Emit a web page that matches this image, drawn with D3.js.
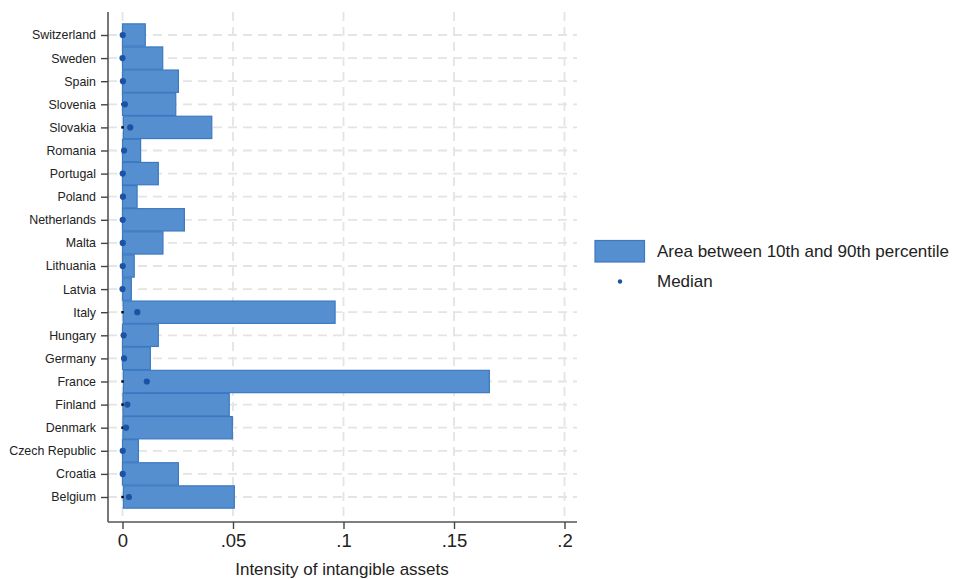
<!DOCTYPE html>
<html>
<head>
<meta charset="utf-8">
<script src="https://cdn.jsdelivr.net/npm/d3@7"></script>
<style>
  body { margin: 0; background: #fff; }
  text { font-family: "Liberation Sans", Arial, Helvetica, sans-serif; fill: #222; }
</style>
</head>
<body>
<svg id="chart" width="953" height="579"></svg>
<script>
// Countries, listed bottom to top
const countries = ["Belgium", "Croatia", "Czech Republic", "Denmark", "Finland", "France",
  "Germany", "Hungary", "Italy", "Latvia", "Lithuania", "Malta", "Netherlands", "Poland",
  "Portugal", "Romania", "Slovakia", "Slovenia", "Spain", "Sweden", "Switzerland"];

// 10th percentile of intangible asset intensity
const p10 = [0.0004, 0, 0, 0.0002, 0.0002, 0.0004, 0, 0, 0.0003, 0, 0, 0, 0, 0,
  0, 0, 0.0004, 0, 0, 0, 0];

// 90th percentile
const p90 = [0.0506, 0.0253, 0.0072, 0.0497, 0.0483, 0.166, 0.0126, 0.0162, 0.0962, 0.004,
  0.0053, 0.0183, 0.028, 0.0066, 0.0162, 0.0082, 0.0404, 0.0241, 0.0253, 0.0182, 0.0103];

// Median
const median = [0.0029, 0.0001, 0.0001, 0.0016, 0.0022, 0.011, 0.0007, 0.0005, 0.0067, 0,
  0.0001, 0.0001, 0.0001, 0.0002, 0.0001, 0.0007, 0.0035, 0.0011, 0.0002, 0, 0.0001];

// Lowest observed value (shown where the distribution's floor sits below the band)
const lowest = [0, null, null, 0, 0, 0, null, null, 0, null, null, null, null, null,
  null, null, 0, 0, null, null, null];

const xTicks = [0, 0.05, 0.1, 0.15, 0.2];
const xTickLabels = ["0", ".05", ".1", ".15", ".2"];
const legendLabels = ["Area between 10th and 90th percentile", "Median"];
const xTitle = "Intensity of intangible assets";

const svg = d3.select("#chart");
const plot = { left: 108, right: 577, top: 12, bottom: 522 };

const x = d3.scaleLinear().domain([0, 0.2]).range([122.5, 564.5]);
const y = d3.scaleLinear().domain([0, countries.length - 1]).range([497, 35]);
const step = Math.abs(y(1) - y(0));
const barH = step - 0.8;

const data = countries.map((c, i) => ({ c, i, lo: p10[i], hi: p90[i], med: median[i], low: lowest[i] }));

// Grid lines
const grid = svg.append("g").attr("stroke", "#e4e4e4").attr("stroke-width", 1.8)
  .attr("stroke-dasharray", "9,6");
grid.selectAll("line.h").data(data).join("line")
  .attr("x1", plot.left).attr("x2", plot.right)
  .attr("y1", d => y(d.i)).attr("y2", d => y(d.i));
grid.selectAll("line.v").data(xTicks).join("line")
  .attr("x1", d => x(d)).attr("x2", d => x(d))
  .attr("y1", plot.top).attr("y2", plot.bottom);

// Percentile bands
svg.append("g").selectAll("rect").data(data).join("rect")
  .attr("x", d => x(d.lo))
  .attr("width", d => x(d.hi) - x(d.lo))
  .attr("y", d => y(d.i) - barH / 2)
  .attr("height", barH)
  .attr("fill", "#558fcf")
  .attr("stroke", "#3b79c0")
  .attr("stroke-width", 1.2);

// Lowest value marks
svg.append("g").selectAll("rect").data(data.filter(d => d.low !== null)).join("rect")
  .attr("x", d => x(d.low) - 1.2).attr("y", d => y(d.i) - 1.2)
  .attr("width", 2.4).attr("height", 2.4).attr("fill", "#000");

// Medians
svg.append("g").selectAll("circle").data(data).join("circle")
  .attr("cx", d => x(d.med)).attr("cy", d => y(d.i)).attr("r", 3.1)
  .attr("fill", "#1c52a3");

// Y axis
const yAxis = d3.axisLeft(y).tickValues(d3.range(countries.length))
  .tickFormat(i => countries[i]).tickSize(7).tickPadding(5);
const gy = svg.append("g").attr("transform", `translate(${plot.left},0)`).call(yAxis);
gy.select(".domain").attr("d", `M0,${plot.top}V${plot.bottom}`).attr("stroke", "#555").attr("stroke-width", 1.6);
gy.selectAll(".tick line").attr("stroke", "#444").attr("stroke-width", 1.4);
gy.selectAll(".tick text").attr("font-size", 12.4).attr("fill", "#222")
  .style("font-family", "'Liberation Sans', Arial, sans-serif");

// X axis
const xAxis = d3.axisBottom(x).tickValues(xTicks).tickFormat((d, i) => xTickLabels[i])
  .tickSize(7).tickPadding(5);
const gx = svg.append("g").attr("transform", `translate(0,${plot.bottom})`).call(xAxis);
gx.select(".domain").attr("d", `M${plot.left},0H${plot.right}`).attr("stroke", "#555").attr("stroke-width", 1.6);
gx.selectAll(".tick line").attr("stroke", "#444").attr("stroke-width", 1.4);
gx.selectAll(".tick text").attr("font-size", 18.5).attr("fill", "#222")
  .style("font-family", "'Liberation Sans', Arial, sans-serif");

svg.append("text").attr("x", (plot.left + plot.right) / 2 - 0.5).attr("y", 574.5)
  .attr("text-anchor", "middle").attr("font-size", 17).text(xTitle);

// Legend
const lg = svg.append("g");
lg.append("rect").attr("x", 595).attr("y", 240.5).attr("width", 49.5).attr("height", 21.5)
  .attr("fill", "#558fcf").attr("stroke", "#3b79c0").attr("stroke-width", 1.2);
lg.append("circle").attr("cx", 620).attr("cy", 281.5).attr("r", 2.2).attr("fill", "#1c52a3");
lg.selectAll("text").data(legendLabels).join("text")
  .attr("x", 657).attr("y", (d, i) => 251 + i * 30.5).attr("dy", "0.35em")
  .attr("font-size", 17).text(d => d);
</script>
</body>
</html>
